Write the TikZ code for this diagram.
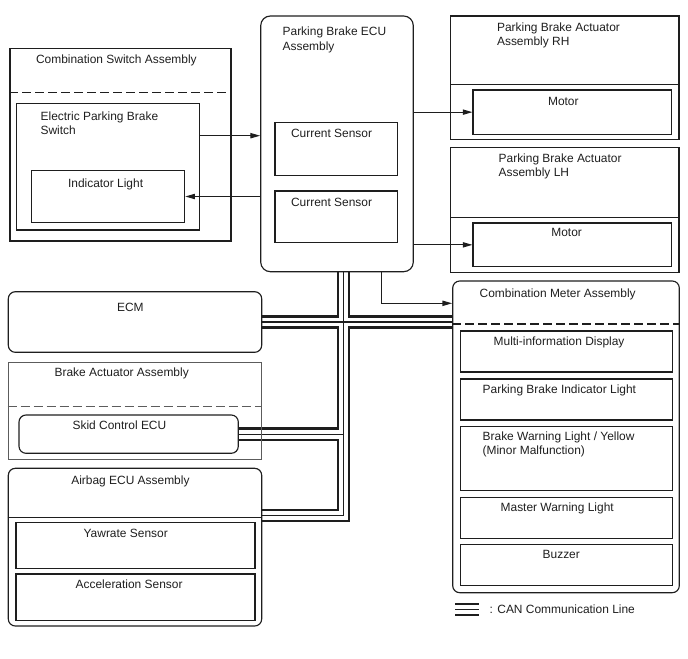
\documentclass[tikz,border=0pt]{standalone}
\usepackage{fontspec}
\setmainfont{Liberation Sans}
\usetikzlibrary{fit,arrows.meta,backgrounds}

\definecolor{pbInk}{HTML}{1E1E1E}
\definecolor{pbGray}{HTML}{5C5C5C}

\begin{document}
\begin{tikzpicture}[
  x=0.02cm, y=-0.02cm, font=\fontsize{6.8}{8.2}\selectfont, text=pbInk,
  pb box/.style={draw=pbInk,line width=.65pt,inner sep=0pt},
  pb round/.style={pb box,rounded corners=4pt},
  pb label/.style={anchor=north west,inner sep=0pt,align=left,yshift=2.45pt},
  pb rule/.style={draw=pbInk,line width=.6pt},
  pb dash/.style={draw=pbInk,line width=.8pt,dash pattern=on 5pt off 2.4pt},
  pb signal/.style={draw=pbInk,line width=.6pt,-{Triangle[length=5.5pt,width=3pt]}},
  can outer/.style={draw=pbInk,line width=7.9pt,line cap=butt,line join=miter},
  can gap/.style={draw=white,line width=5.1pt,line cap=butt,line join=miter},
  can core/.style={draw=pbInk,line width=.6pt,line cap=butt,line join=miter}
]
\useasboundingbox (0,0) rectangle (688,658);

% Combination switch (left, top).
\node[pb box,fit={(10,48.3) (231,241)}] (csa) {};
\node[pb box,fit={(16.7,103.7) (199.7,230)}] (epbs) {};
\node[pb box,fit={(31.7,170.7) (184.7,222.3)}] (ind) {};
\draw[pb dash] (csa.west |- 0,92.7) -- (csa.east |- 0,92.7);
\node[pb label] (lCsa) at (35.7,59.3) {Combination Switch Assembly};
\node[pb label] (lEpbs) at (40.3,115.7) {Electric Parking Brake\\Switch};
\node[pb label] (lInd) at (67.7,182.3) {Indicator Light};

% Parking brake ECU.
\node[pb round,rounded corners=5.5pt,fit={(260.7,16) (413.3,271.7)}] (ecu) {};
\node[pb box,fit={(275,122.7) (397.3,175.7)}] (cs1) {};
\node[pb box,fit={(275,191) (397.3,242.3)}] (cs2) {};
\node[pb label] (lEcu) at (282.3,31.3) {Parking Brake ECU\\Assembly};
\node[pb label] (lCs1) at (290.7,132.7) {Current Sensor};
\node[pb label] (lCs2) at (290.7,201.7) {Current Sensor};

% Actuators RH / LH.
\node[pb box,fit={(450.7,16) (679,139.3)}] (actrh) {};
\node[pb box,fit={(473,90) (671.7,134.3)}] (motrh) {};
\draw[pb rule] (actrh.west |- 0,84.3) -- (actrh.east |- 0,84.3);
\node[pb label] (lActrh) at (496.7,26.7) {Parking Brake Actuator\\Assembly RH};
\node[pb label] (lMotrh) at (547.7,101.7) {Motor};
\node[pb box,fit={(450.7,147.7) (679,272.7)}] (actlh) {};
\node[pb box,fit={(473,223) (671.7,266.7)}] (motlh) {};
\draw[pb rule] (actlh.west |- 0,217.3) -- (actlh.east |- 0,217.3);
\node[pb label] (lActlh) at (498.3,157.7) {Parking Brake Actuator\\Assembly LH};
\node[pb label] (lMotlh) at (551,232.3) {Motor};

% CAN nodes on the left.
\node[pb round,fit={(8.3,291.7) (261.7,352.3)}] (ecm) {};
\node[pb label] (lEcm) at (116.7,306.7) {ECM};
\node[draw=pbGray,line width=.65pt,inner sep=0pt,fit={(8.3,362.3) (261.7,459.3)}] (bka) {};
\draw[pb dash,draw=pbGray,line width=.7pt] (bka.west |- 0,406.7) -- (bka.east |- 0,406.7);
\node[pb round,fit={(19,415) (238.3,453.3)}] (skid) {};
\node[pb label] (lBka) at (54.3,372) {Brake Actuator Assembly};
\node[pb label] (lSkid) at (72.3,425) {Skid Control ECU};
\node[pb round,fit={(8.3,468.3) (261.7,626)}] (abg) {};
\draw[pb rule] (abg.west |- 0,517.7) -- (abg.east |- 0,517.7);
\node[pb box,line width=.8pt,fit={(16,522.7) (255,568.3)}] (yaw) {};
\node[pb box,line width=.8pt,fit={(16,574) (255,620.7)}] (acc) {};
\node[pb label] (lAbg) at (71,479.3) {Airbag ECU Assembly};
\node[pb label] (lYaw) at (83.3,532.7) {Yawrate Sensor};
\node[pb label] (lAcc) at (75.3,584) {Acceleration Sensor};

% Combination meter.
\node[pb round,fit={(452.7,281) (679.3,592.7)}] (cmtr) {};
\draw[pb dash] (cmtr.west |- 0,324) -- (cmtr.east |- 0,324);
\node[pb box,fit={(460.7,331) (672.7,372)}] (mid) {};
\node[pb box,fit={(460.7,379) (672.7,420)}] (pbil) {};
\node[pb box,fit={(460.7,426.3) (672.7,490.7)}] (bwl) {};
\node[pb box,fit={(460.7,497.7) (672.7,538.3)}] (mwl) {};
\node[pb box,fit={(460.7,544.3) (672.7,585.3)}] (buz) {};
\node[pb label] (lCmtr) at (479.3,292.7) {Combination Meter Assembly};
\node[pb label] (lMid) at (493.3,341) {Multi-information Display};
\node[pb label] (lPbil) at (482.3,388.3) {Parking Brake Indicator Light};
\node[pb label] (lBwl) at (482.3,435.7) {Brake Warning Light / Yellow\\(Minor Malfunction)};
\node[pb label] (lMwl) at (500.3,506.7) {Master Warning Light};
\node[pb label] (lBuz) at (542.3,554.3) {Buzzer};

% Legend.
\node[pb label] (lCan) at (489.3,608.3) {: CAN Communication Line};
\coordinate (lgA) at (455,609.5);
\coordinate (lgB) at (479,609.5);

% Signal wires.
\coordinate (swY) at (0,135.7);
\coordinate (mBend) at (381.7,303.3);
\draw[pb signal] (epbs.east |- swY) -- (ecu.west |- swY);
\draw[pb signal] (ecu.west |- ind.east) -- (ind.east);
\draw[pb signal] (ecu.east |- motrh.west) -- (motrh.west);
\draw[pb signal] (ecu.east |- motlh.west) -- (motlh.west);
\draw[pb signal] (ecu.south -| mBend) -- (mBend) -- (cmtr.west |- mBend);

% CAN bus: outer stroke, white gap, then core, so junctions open up.
\coordinate (busX) at (343.5,0);
\coordinate (abgY) at (0,515.5);
\begin{scope}[on background layer]
\foreach \st in {can outer,can gap,can core} {
  \draw[\st] (ecm.east) -- (cmtr.west |- ecm.east);
  \draw[\st] (ecu.south -| busX) -- (busX |- abgY) -- (abg.east |- abgY);
  \draw[\st] (skid.east) -- (busX |- skid.east);
  \draw[\st] (lgA) -- (lgB);
}
\end{scope}
\end{tikzpicture}
\end{document}
